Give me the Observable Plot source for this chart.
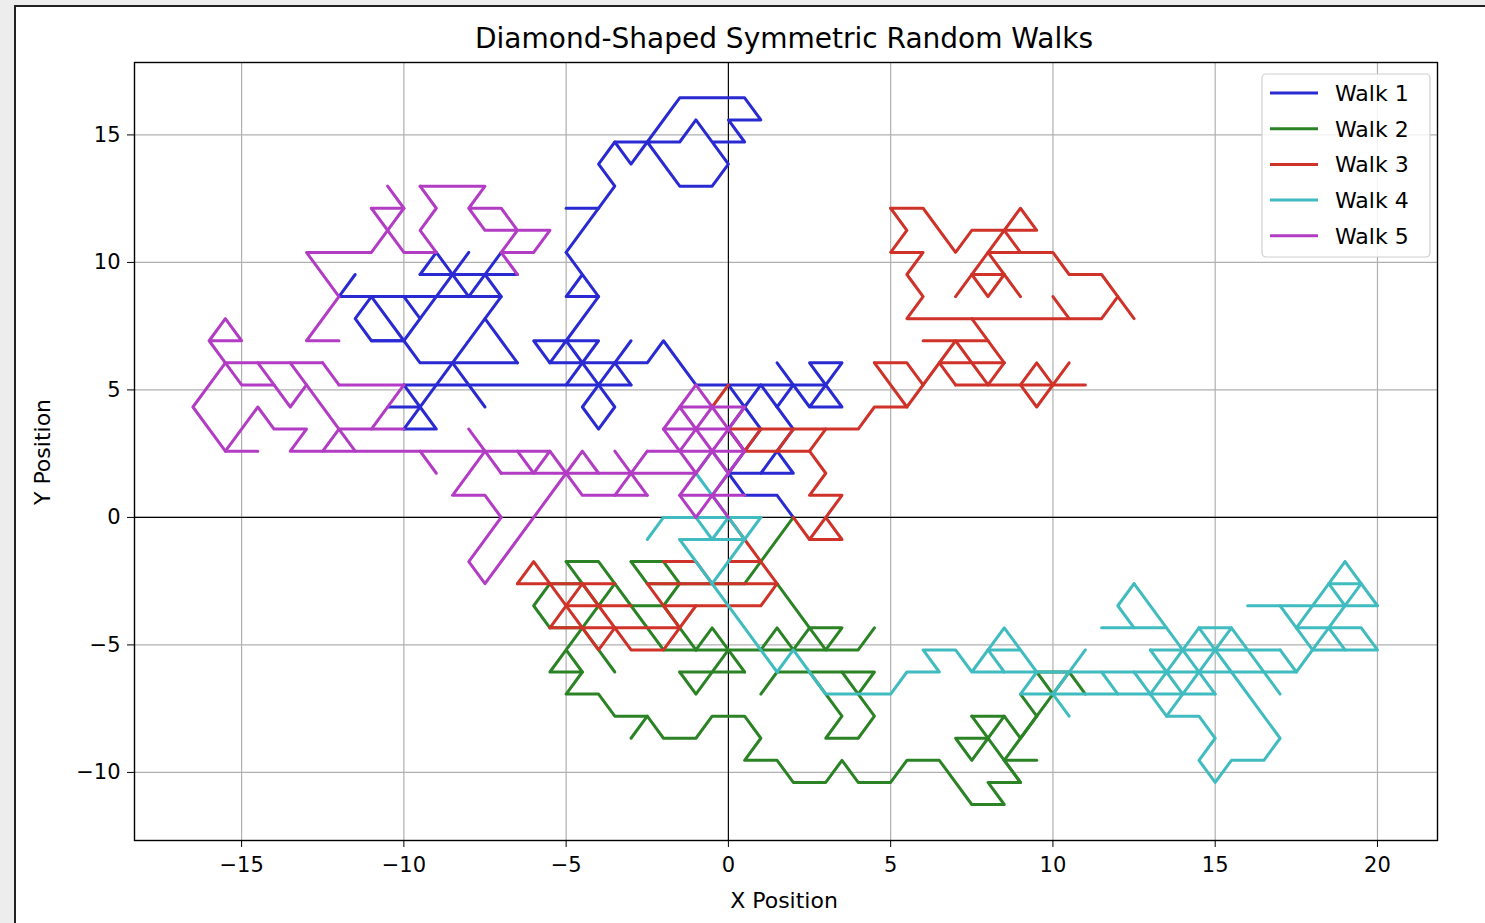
<!DOCTYPE html>
<html><head><meta charset="utf-8">
<script src="https://cdn.jsdelivr.net/npm/d3@7"></script>
<script src="https://cdn.jsdelivr.net/npm/@observablehq/plot@0.6"></script>
<style>
html,body{margin:0;padding:0;background:#ededed;}
#page{position:relative;width:1485px;height:923px;overflow:hidden;font-family:"DejaVu Sans",sans-serif;}
#sheet{position:absolute;left:14px;top:5px;width:1471px;height:918px;background:#fff;border-left:2px solid #222;border-top:2px solid #222;box-sizing:border-box;}
#chart{position:absolute;left:0;top:0;}
</style></head>
<body><div id="page"><div id="sheet"></div><div id="chart"></div></div>
<script>
// Lattice walks: each stroke is a flat list of (x, row) pairs; y = row * sqrt(3)/2
const walkNames = ["Walk 1","Walk 2","Walk 3","Walk 4","Walk 5"];
const walkColors = ["#2a2ad2","#2b8326","#cf3229","#40bcc0","#b23cc4"];
const xTicks = [-15,-10,-5,0,5,10,15,20];
const yTicks = [-10,-5,0,5,10,15];

const walk1 = [
 [-5,14,-4,14],
 [-5,12,-3.5,15,-4,16,-3.5,17,-3,16,-2.5,17,-1.5,17,-1,18,0,16,-0.5,15,-1.5,15,-2.5,17,-1.5,19,0.5,19,1,18,0,18,0.5,17,-0.5,17],
 [-3.5,17,-2.5,17],
 [-5,12,-4,10,-5,10,-4.5,11],
 [-4,10,-5,8,-6,8,-5.5,7,-5,8,-4,8,-5,6],
 [-5,8,-4,6,-4.5,5,-4,4,-3.5,5,-4,6,-3.5,7,-3,8],
 [-3.5,7,-3,6],
 [-5.5,7,-2.5,7,-2,8,-1,6,3,6],
 [-10,6,-3,6],
 [1.5,7,2.5,5,3.5,7,2.5,7,3.5,5,2.5,5],
 [0,6,0.5,5,1,6,1.5,5,2,6],
 [0.5,5,0,4,0.5,3,1,4,0.5,5],
 [1.5,5,2,4,1.5,3,1,2,2,2,1.5,3],
 [0.5,3,0,2,1,2],
 [0,2,0.5,1,1.5,1,2,0],
 [-10,4,-7.5,9],
 [-10.5,5,-9.5,5],
 [-10,4,-9,4,-9.5,5,-10,6],
 [-11,8,-10,8,-9.5,7,-6.5,7],
 [-8.5,7,-7.5,5],
 [-11.5,11,-12,10,-7,10],
 [-11,10,-11.5,9,-11,8,-10,8,-11,10],
 [-10,10,-9.5,9,-10,8],
 [-9.5,9,-8,12],
 [-9.5,11,-9,12,-8,10],
 [-9.5,11,-6.5,11],
 [-7,12,-8,10],
 [-7.5,11,-7,10,-7.5,9,-7,8,-6.5,7]
];
const walk2 = [
 [2,0,0.5,-3],
 [-2.5,-3,0.5,-3],
 [-5,-2,-4,-2,-3.5,-3],
 [-5,-2,-4,-4],
 [-3,-2,-2,-2,-1.5,-3],
 [-3,-2,-2.5,-3],
 [-4.5,-3,-5.5,-3,-6,-4,-5.5,-5,-4.5,-5],
 [-5,-6,-5.5,-7,-4.5,-7,-5,-6,-3.5,-3],
 [-4.5,-7,-5,-8,-4,-8,-3.5,-9,-2.5,-9,-2,-10,-1,-10,-0.5,-9,0.5,-9,1,-10,0.5,-11,1.5,-11,2,-12,3,-12,3.5,-11,4,-12,5,-12,5.5,-11,6.5,-11,7.5,-13,8.5,-13,8,-12,9,-12,8.5,-11,10,-8,10.5,-7,11,-8],
 [-3,-10,-2.5,-9],
 [9.5,-7,10.5,-7],
 [9.5,-7,10,-8],
 [7,-10,8,-10,7.5,-11,7,-10],
 [7.5,-9,8.5,-9,9,-10,9.5,-9],
 [7.5,-9,9,-12],
 [8,-10,8.5,-9],
 [9,-8,9.5,-9],
 [8.5,-11,9.5,-11],
 [1.5,-3,2.5,-5],
 [1,-6,1.5,-5,2,-6,2.5,-5,3,-6,3.5,-5,2.5,-5],
 [1,-6,4,-6,4.5,-5],
 [1.5,-7,4.5,-7,4,-8,4.5,-9,4,-10,3,-10,3.5,-9,2.5,-7],
 [1,-8,1.5,-7],
 [3.5,-7,4,-8],
 [-1.5,-7,0.5,-7],
 [-1.5,-7,-1,-8,0,-6,0.5,-7],
 [-1,-6,1,-6],
 [-1,-6,-0.5,-5,0,-6],
 [-1.5,-3,-2,-4,-1,-6],
 [-3,-4,-2,-4],
 [-3.5,-3,-3,-4,-2,-6,-1,-6],
 [-4.5,-5,-4,-6,-3.5,-7]
];
const walk3 = [
 [5,14,6,14,7,12,7.5,13,9.5,13,9,14,7,10],
 [5,14,5.5,13,5,12,6,12,5.5,11,6,10,5.5,9,11.5,9,12,10,12.5,9],
 [8,12,10,12,10.5,11,11.5,11,12,10],
 [8.5,13,9,12],
 [8,12,8.5,11,9,10],
 [7.5,11,8.5,11],
 [7.5,11,8,10,8.5,11],
 [10,10,10.5,9],
 [7.5,9,8.5,7],
 [6,8,8,8],
 [5.5,5,7,8,8,6],
 [6.5,7,8.5,7],
 [7,6,11,6],
 [10,6,10.5,7],
 [6.5,7,7,6],
 [8.5,7,8,6],
 [9,6,9.5,7,10,6,9.5,5,9,6],
 [4.5,7,5.5,7,6,6],
 [4.5,7,5.5,5,4.5,5,4,4,0,4],
 [0.5,3,2.5,3],
 [2,4,1.5,3],
 [3,4,2.5,3,3,2,2.5,1,3.5,1,2.5,-1,3.5,-1,3,0],
 [2,0,2.5,-1],
 [0,4,0.5,3,1,4],
 [-0.5,5,0,6],
 [0,0,0.5,-1,1,-2,1.5,-3,1,-4,-2,-4],
 [-2.5,-3,1.5,-3],
 [-2,-2,-1,-2,-0.5,-3],
 [0,-2,1,-2],
 [-6.5,-3,-6,-2,-5.5,-3],
 [-6.5,-3,-3.5,-3],
 [-5.5,-3,-4,-6,-3.5,-5],
 [-5.5,-5,-1.5,-5],
 [-5,-4,-3,-4],
 [-5.5,-5,-4.5,-3,-4,-4,-3,-6,-2,-6,-1,-4],
 [-2.5,-3,-1.5,-5]
];
const walk4 = [
 [0,0,-0.5,1,-1,2,-0.5,3,0,2,-0.5,1],
 [-2,0,1,0],
 [-2,0,-2.5,-1],
 [-1.5,-1,0.5,-1],
 [-1.5,-1,1.5,-7],
 [-1,0,-0.5,-1,0,0,0.5,-1,1,0],
 [0.5,-1,-0.5,-3],
 [1.5,-7,2,-6,2.5,-7,3,-8,5,-8,5.5,-7,6.5,-7,6,-6,7,-6,7.5,-7,9.5,-7,8.5,-5,7.5,-7],
 [8,-6,9,-6],
 [8,-6,8.5,-7],
 [9.5,-7,9,-8,15,-8],
 [11,-6,10,-8,10.5,-9],
 [9.5,-7,17.5,-7],
 [12.5,-3,12,-4,12.5,-5],
 [11.5,-5,13.5,-5],
 [12.5,-3,15,-8],
 [13,-8,13.5,-9,14.5,-9,15,-10,14.5,-11,15,-12,15.5,-11,16.5,-11,17,-10,15.5,-7],
 [13,-6,17,-6],
 [14.5,-5,15.5,-5],
 [13,-8,14.5,-5,15.5,-7],
 [13.5,-9,15.5,-5,16,-6,17,-8],
 [13,-6,13.5,-7,14,-8],
 [16,-4,20,-4],
 [19,-2,17.5,-5],
 [19,-2,20,-4],
 [18.5,-3,19.5,-3],
 [18.5,-3,19,-4],
 [19.5,-3,18,-6],
 [17,-4,17.5,-5,19.5,-5,20,-6,18,-6,17.5,-7,17,-6],
 [18.5,-5,19,-6],
 [17.5,-5,18,-6],
 [11.5,-7,12,-8],
 [12.5,-7,13,-8]
];
const walk5 = [
 [-10.5,15,-10,14,-10.5,13,-11,12,-13,12,-12,10,-13,8,-12,8],
 [-11,14,-10,14],
 [-11,14,-10,12,-9,12],
 [-9.5,15,-7.5,15,-8,14,-7,14,-6.5,13,-7,12,-6,12,-5.5,13,-7.5,13,-8,14],
 [-9.5,15,-9,14,-9.5,13,-9,12],
 [-7,12,-6.5,11],
 [-16,8,-15.5,9,-15,8,-16,8,-15.5,7,-12.5,7],
 [-15.5,7,-16.5,5,-15.5,3,-14.5,3],
 [-15.5,7,-15,6,-14,6,-13.5,5,-13,6,-13.5,7],
 [-14.5,7,-14,6],
 [-15.5,3,-14.5,5,-14,4,-13,4,-13.5,3,-5.5,3],
 [-13,6,-12,4,-11.5,3],
 [-12.5,3,-12,4,-10,4],
 [-11,4,-10,6],
 [-12,6,-10,6],
 [-12.5,7,-12,6],
 [-9.5,3,-9,2],
 [-8,4,-7.5,3,-8.5,1,-7.5,1,-7,0,-8,-2,-7.5,-3,-5,2],
 [-7,2,-1,2],
 [-7.5,3,-7,2],
 [-6.5,3,-6,2,-5.5,3,-5,2],
 [-5,2,-4.5,3,-4,2],
 [-5,2,-4.5,1,-2.5,1],
 [-3.5,3,-2.5,1],
 [-3.5,1,-2.5,3],
 [-2.5,3,0.5,3],
 [-1.5,5,-1,6,-0.5,5],
 [-1.5,5,0.5,5],
 [-2,4,0,4],
 [-1.5,1,0.5,1],
 [-2,4,-1.5,5,0,2,-0.5,1,-1,0,-1.5,1,-1,2],
 [-2,4,-1.5,3,-1,4,-0.5,5,0,4,0.5,3,0,2],
 [-1.5,3,-1,2,0,4,0.5,5],
 [0,0,-0.5,1]
];

const walks = [walk1, walk2, walk3, walk4, walk5];
const rowStep = Math.sqrt(3) / 2;
const tables = walks.map((strokes, w) => strokes.flatMap((s, k) => {
  const pts = [];
  for (let i = 0; i < s.length; i += 2) pts.push({walk: walkNames[w], seg: w + "-" + k, x: s[i], y: s[i + 1] * rowStep});
  return pts;
}));

const W = 1485, H = 923;
const mL = 134, mR = W - 1437, mT = 62, mB = H - 840;
const font = "DejaVu Sans, sans-serif";

const plot = Plot.plot({
  width: W, height: H,
  marginLeft: mL, marginRight: mR, marginTop: mT, marginBottom: mB,
  style: {background: "transparent", fontFamily: font, overflow: "visible"},
  x: {domain: [-18.3, 21.85]},
  y: {domain: [-12.67, 17.84]},
  marks: [
    Plot.gridX(xTicks, {stroke: "#b0b0b0", strokeOpacity: 1, strokeWidth: 1.2}),
    Plot.gridY(yTicks, {stroke: "#b0b0b0", strokeOpacity: 1, strokeWidth: 1.2}),
    Plot.ruleX([0], {stroke: "#000", strokeWidth: 1.1}),
    Plot.ruleY([0], {stroke: "#000", strokeWidth: 1.1}),
    ...tables.map((t, w) => Plot.line(t, {x: "x", y: "y", z: "seg", stroke: walkColors[w], strokeWidth: 3, strokeLinejoin: "round", strokeLinecap: "round"})),
    Plot.frame({stroke: "#000", strokeWidth: 1.4}),
    Plot.axisX(xTicks, {tickSize: 7, tickPadding: 10, fontSize: 21, label: null, stroke: "#000", fill: "#000"}),
    Plot.axisY(yTicks, {tickSize: 7, tickPadding: 7, fontSize: 21, label: null, stroke: "#000", fill: "#000"})
  ]
});
document.getElementById("chart").appendChild(plot);

const svg = d3.select(plot);
svg.append("text").attr("x", 784).attr("y", 48).attr("text-anchor", "middle")
  .attr("font-family", font).attr("font-size", 28).attr("fill", "#000")
  .text("Diamond-Shaped Symmetric Random Walks");
svg.append("text").attr("x", 784).attr("y", 908).attr("text-anchor", "middle")
  .attr("font-family", font).attr("font-size", 22).attr("fill", "#000").text("X Position");
svg.append("text").attr("transform", "translate(50,452) rotate(-90)").attr("text-anchor", "middle")
  .attr("font-family", font).attr("font-size", 22).attr("fill", "#000").text("Y Position");

// legend
const lg = svg.append("g");
lg.append("rect").attr("x", 1262).attr("y", 74).attr("width", 168).attr("height", 183).attr("rx", 4)
  .attr("fill", "#fff").attr("fill-opacity", 0.85).attr("stroke", "#d0d0d0").attr("stroke-width", 1.2);
walkNames.forEach((n, i) => {
  const cy = 93 + i * 35.7;
  lg.append("line").attr("x1", 1270).attr("x2", 1318).attr("y1", cy).attr("y2", cy)
    .attr("stroke", walkColors[i]).attr("stroke-width", 3);
  lg.append("text").attr("x", 1335).attr("y", cy).attr("dy", "0.36em").attr("text-anchor", "start")
    .attr("font-family", font).attr("font-size", 22).attr("fill", "#000").text(n);
});
</script></body></html>
